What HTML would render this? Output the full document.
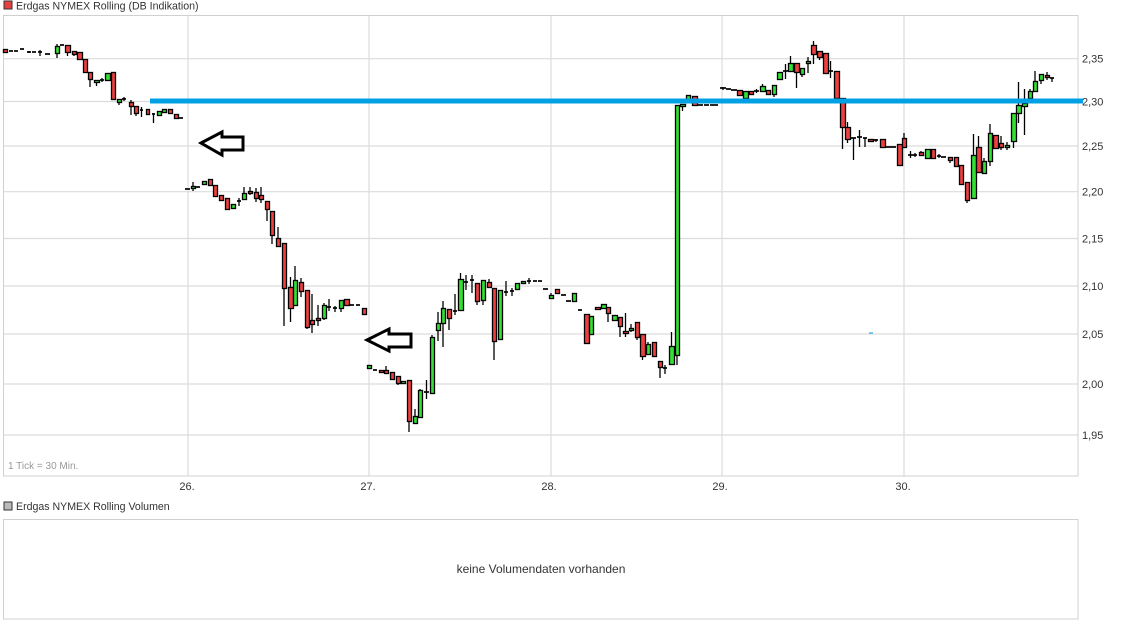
<!DOCTYPE html>
<html><head><meta charset="utf-8"><style>
body{margin:0;background:#fff;width:1125px;height:630px;overflow:hidden;font-family:"Liberation Sans",sans-serif}
</style></head><body>
<svg id="s" width="1125" height="630" xmlns="http://www.w3.org/2000/svg" font-family="Liberation Sans, sans-serif">
<rect x="4" y="1" width="8" height="8" fill="#e84040" stroke="#333" stroke-width="1"/>
<text x="16" y="9.5" font-size="10.6" fill="#333">Erdgas NYMEX Rolling (DB Indikation)</text>
<g id="grid" stroke="#dcdcdc" stroke-width="1.2"></g>
<rect x="3.5" y="15.5" width="1074.5" height="460.5" fill="none" stroke="#d0d0d0"/>
<g id="yl" font-size="11" fill="#333"></g>
<text x="8" y="469" font-size="10" fill="#999">1 Tick = 30 Min.</text>
<g font-size="11" fill="#333" text-anchor="middle">
<text x="187" y="490">26.</text><text x="368" y="490">27.</text><text x="549" y="490">28.</text><text x="720" y="490">29.</text><text x="903" y="490">30.</text></g>
<g id="c"></g>
<line x1="150" y1="101" x2="1083" y2="101" stroke="#00a0e4" stroke-width="5"/>
<line x1="869" y1="333" x2="873" y2="333" stroke="#00a0e4" stroke-width="1"/>
<polygon points="201,143 222,132 222,137 243,137 243,150 222,150 222,155" fill="#fff" stroke="#000" stroke-width="3" stroke-linejoin="miter"/>
<polygon points="367,340 389,329 389,334 411,334 411,347 389,347 389,351" fill="#fff" stroke="#000" stroke-width="3"/>
<rect x="4" y="502" width="8" height="8" fill="#bbb" stroke="#333" stroke-width="1"/>
<text x="16" y="510" font-size="10.6" fill="#333">Erdgas NYMEX Rolling Volumen</text>
<rect x="3.5" y="519.5" width="1074.5" height="99.5" fill="none" stroke="#d0d0d0"/>
<text x="541" y="573" font-size="12" fill="#333" text-anchor="middle">keine Volumendaten vorhanden</text>
</svg>
<script>
var NS="http://www.w3.org/2000/svg";
function el(p,n,a){var e=document.createElementNS(NS,n);for(var k in a)e.setAttribute(k,a[k]);p.appendChild(e);return e;}
var g=document.getElementById('grid'),yl=document.getElementById('yl');
[[58.7,'2,35'],[101.5,'2,30'],[146,'2,25'],[191.7,'2,20'],[238.5,'2,15'],[286,'2,10'],[334,'2,05'],[384,'2,00'],[435,'1,95']].forEach(function(v){
el(g,'line',{x1:3,x2:1078,y1:v[0],y2:v[0]});var t=el(yl,'text',{x:1082,y:v[0]+4});t.textContent=v[1];});
[188,369,551,722,904].forEach(function(x){el(g,'line',{x1:x,x2:x,y1:15,y2:476});});
var D=[
[3,7,49,52,'r'],[9,13,51,51,'d'],[14,18,51,51,'d'],[20,24,49,49,'d'],[27,31,52,52,'c',51,53],[32,36,52,52,'d'],[38,42,52,52,'c',50,56],[45,50,54,54,'d'],
[55,59,46,53,'g',44,58],[60,64,45,45,'d'],[65,70,45,52,'r',45,56],[72,76,51,54,'r',51,56],[77,82,52,59,'r'],[83,87,59,72,'r'],[88,92,72,79,'r',72,87],[94,99,80,82,'g',80,86],[100,104,80,80,'c',78,82],[105,110,73,80,'g'],[111,115,72,99,'r'],[117,121,99,102,'g',99,105],[122,126,99,99,'c',97,101],[129,133,102,106,'r',100,115],[134,138,106,113,'r',106,116],[140,143,110,110,'c',107,117],[146,149,109,114,'r'],[152,155,114,114,'c',113,123],[157,161,111,115,'g'],[162,166,109,112,'g'],[168,172,109,113,'r'],[174,178,114,118,'r',114,119],[179,183,118,118,'d'],
[185,190,189,189,'d'],[191,195,186,188,'g',182,191],[195,200,187,187,'d'],[202,206,181,184,'g'],[208,212,179,185,'r'],[213,217,185,196,'r'],[219,223,195,200,'r'],[225,229,198,209,'r'],[231,235,204,208,'g'],[237,241,201,201,'c',198,206],[242,246,193,199,'g',187,199],[248,252,191,193,'r',187,195],[254,258,192,198,'r',188,202],[259,263,195,199,'r',187,203],[265,269,201,209,'r',201,221],[270,274,211,235,'r',211,244],[276,280,238,246,'r',227,246],[282,286,243,288,'r',243,326],[288,293,287,308,'r',277,322],[293,297,280,305,'g',266,305],[299,303,282,291,'r',278,297],[305,309,290,327,'r',290,329],[310,314,320,324,'r',294,333],[316,320,318,320,'r',305,326],[322,326,305,318,'g',303,320],[327,331,307,307,'c',299,311],[333,337,308,308,'c',306,312],[339,343,300,308,'g',300,312],[344,349,299,305,'r'],[350,354,305,305,'d'],[356,360,305,305,'d'],[362,366,308,314,'r'],
[367,371,365,368,'g'],[373,377,370,370,'d'],[379,383,370,372,'r'],[384,388,370,373,'r',366,373],[390,394,372,379,'r'],[396,400,376,383,'r',376,385],[401,405,381,383,'g'],[407,411,380,421,'r',380,432],[413,417,416,423,'g',409,423],[418,422,390,417,'g',389,417],[424,429,392,392,'c',380,399],[430,434,337,393,'g',335,393],[436,440,323,330,'g',312,341],[441,445,308,323,'g',301,347],[447,451,309,318,'r',309,330],[453,457,311,311,'c',294,315],[458,463,279,310,'g',273,310],[464,468,282,282,'c',275,290],[470,474,280,280,'c',275,293],[475,479,283,301,'r',283,305],[481,485,280,300,'g',280,305],[487,491,282,287,'r',279,287],[492,496,288,341,'r',288,360],[498,502,290,339,'g'],[504,508,292,292,'c',281,296],[510,514,291,291,'c',288,296],[515,519,283,289,'g'],[521,525,281,283,'g'],[527,531,281,281,'c',278,284],[533,537,281,281,'d'],[538,542,281,281,'d'],
[543,548,289,289,'d'],[549,553,295,298,'g',293,298],[555,559,289,293,'r'],[561,566,295,295,'d'],[566,571,301,301,'d'],[572,576,293,301,'g'],[578,582,310,310,'d'],[584,589,314,343,'r'],[589,593,316,334,'g'],[595,600,307,309,'r'],[601,606,304,308,'g'],[606,610,307,313,'r',307,322],[612,617,315,320,'g'],[618,622,317,326,'r',317,337],[623,628,331,333,'r',313,337],[629,633,328,330,'g',324,332],[635,639,322,337,'r',322,340],[640,645,334,356,'r',334,360],[646,650,344,354,'g',342,354],[652,656,342,356,'r'],[658,662,361,367,'r',361,378],[663,667,368,368,'c',365,374],[669,674,346,364,'g',332,364],[675,679,105,355,'g',105,365],[680,685,104,106,'g',104,111],[686,690,95,101,'g'],[692,697,96,105,'r'],[698,703,105,105,'d'],[704,709,105,105,'d'],[710,718,105,105,'d'],
[720,726,88,88,'c',87,90],[726,731,89,89,'d'],[731,737,90,90,'d'],[737,742,90,95,'r'],[743,748,91,98,'g'],[749,753,91,94,'r'],[754,759,91,91,'c',89,93],[760,765,86,91,'g',84,91],[766,770,90,94,'r'],[772,776,85,94,'g',85,97],[777,782,72,79,'g'],[783,788,71,71,'c',64,79],[788,793,63,71,'g',56,71],[794,799,63,72,'r',63,88],[800,804,68,74,'g',68,77],[806,810,61,63,'g',57,73],[811,816,45,54,'r',41,64],[817,822,51,57,'r',51,60],[823,828,53,73,'r'],[828,833,71,71,'c',61,78],[834,839,71,98,'r'],[840,845,98,127,'r',98,149],[845,850,127,139,'r',122,143],[851,856,138,138,'c',138,160],[857,862,137,137,'c',130,147],[863,867,138,138,'d',138,147],[868,873,139,141,'r'],[874,878,140,140,'c',139,142],[880,885,139,147,'r'],[886,891,147,147,'d'],[891,896,147,147,'d'],[897,902,144,165,'r'],[902,906,138,147,'r',133,147],
[908,913,155,155,'c',151,158],[913,917,155,155,'c',153,157],[919,923,152,155,'r',151,155],[925,930,149,158,'g'],[931,935,149,158,'r'],[937,941,156,156,'c',154,158],[941,946,157,157,'d'],[948,952,157,160,'r',157,163],[954,958,157,166,'r'],[959,963,165,184,'r'],[965,969,182,200,'r',182,203],[971,976,155,198,'g',134,198],[976,981,147,172,'r',136,172],[982,986,161,173,'g',158,173],[988,992,133,161,'g',124,166],[993,998,135,148,'r'],[999,1003,143,147,'r',136,150],[1005,1009,145,147,'g',142,150],[1011,1016,113,141,'g',113,148],[1016,1021,105,113,'g',82,123],[1022,1027,103,106,'g',89,135],[1028,1032,91,98,'g',89,98],[1033,1037,81,91,'g',71,91],[1039,1043,74,80,'g',74,84],[1045,1049,75,77,'r',72,80],[1050,1054,78,78,'d',78,82]
];
var c=document.getElementById('c');
D.forEach(function(d){var x1=d[0],x2=d[1],t=d[2],b=d[3],ty=d[4],wt=d[5]!==undefined?d[5]:t,wb=d[6]!==undefined?d[6]:b;var cx=(x1+x2)/2;
if(wt<t||wb>b)el(c,'line',{x1:cx,x2:cx,y1:wt,y2:wb,stroke:'#000','stroke-width':1.3});
if(ty=='d'||ty=='c'){el(c,'line',{x1:x1,x2:x2,y1:t,y2:t,stroke:'#000','stroke-width':1.7});}
else{if(b-t<2)b=t+2;el(c,'rect',{x:x1+0.5,y:t+0.5,width:x2-x1,height:b-t,fill:ty=='g'?'#33e033':'#ee4040',stroke:'#000','stroke-width':1.3});}
});
</script>
</body></html>
